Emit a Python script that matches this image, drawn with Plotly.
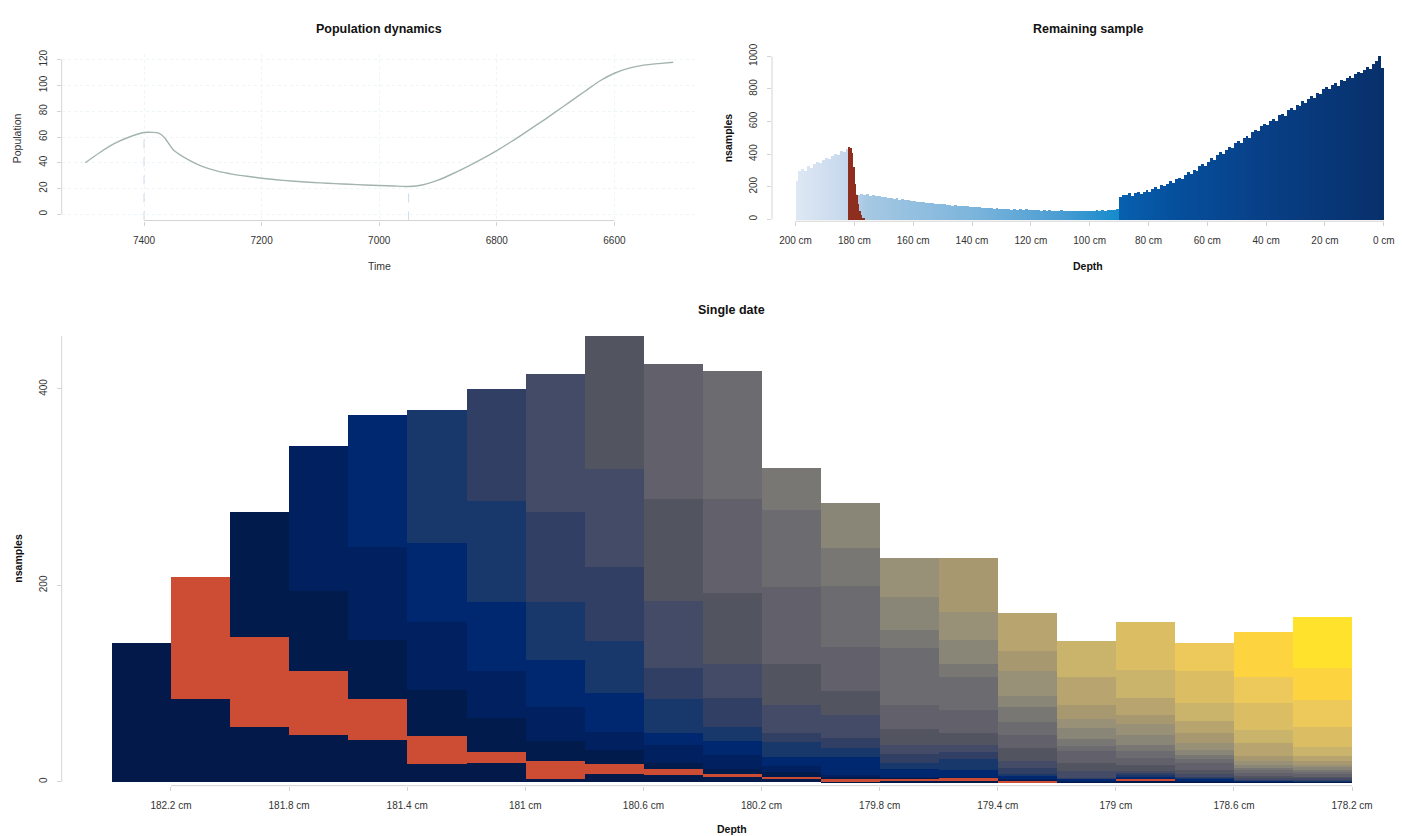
import numpy as np
import plotly.graph_objects as go

W, H = 1402, 836

# ---------------- Population dynamics ----------------
time_years = [7500, 7475, 7450, 7425, 7400, 7385, 7375, 7365, 7350, 7325, 7300, 7275,
              7250, 7225, 7200, 7175, 7150, 7125, 7100, 7075, 7050, 7025, 7000, 6975,
              6950, 6925, 6900, 6875, 6850, 6825, 6800, 6775, 6750, 6725, 6700, 6675,
              6650, 6625, 6600, 6575, 6550, 6525, 6500]
population = [40, 48, 55, 60, 63.5, 63.6, 63, 59.5, 50, 42.5, 37, 33.5,
              31.2, 29.5, 28, 26.8, 25.9, 25.1, 24.4, 23.8, 23.3, 22.8, 22.4, 22,
              21.6, 23, 26.5, 31.5, 37, 43, 49.5, 56.5, 64, 71.5, 79.5, 87.5,
              95.5, 103.5, 109.5, 113.5, 115.8, 117, 118]
marked_times = [7400, 6950]
time_ticks = [7400, 7200, 7000, 6800, 6600]
pop_ticks = [0, 20, 40, 60, 80, 100, 120]

# ---------------- Remaining sample ----------------
depth_bins = np.arange(199.5, 0, -1.0)   # 1 cm bins, 200 cm -> 0 cm
remaining_counts = [
    235, 298, 309, 301, 326, 318, 341, 352, 346, 368,
    377, 369, 392, 405, 398, 421, 415, 433, 436, 160,
    158, 151, 155, 149, 156, 146, 150, 143, 147, 138,
    141, 133, 134, 128, 131, 121, 126, 119, 118, 112,
    116, 108, 109, 105, 104, 99, 103, 94, 98, 93,
    93, 89, 90, 84, 88, 81, 84, 80, 80, 76,
    78, 74, 75, 72, 73, 68, 72, 66, 69, 66,
    66, 63, 65, 60, 64, 60, 62, 57, 62, 58,
    59, 57, 58, 54, 59, 53, 56, 55, 55, 52,
    57, 51, 54, 53, 54, 50, 55, 52, 53, 51,
    55, 51, 56, 52, 56, 55, 57, 58, 60, 62,
    138, 152, 149, 160, 146, 163, 170, 158, 172, 180,
    171, 190, 197, 188, 210, 203, 221, 235, 226, 250,
    258, 247, 276, 290, 280, 305, 298, 326, 342, 331,
    356, 377, 366, 398, 412, 401, 428, 446, 437, 468,
    481, 470, 502, 515, 503, 539, 552, 541, 573, 585,
    579, 606, 618, 602, 639, 648, 633, 671, 684, 673,
    702, 695, 726, 717, 741, 759, 748, 776, 768, 799,
    812, 801, 829, 838, 822, 855, 849, 868, 881, 870,
    892, 903, 897, 921, 934, 926, 958, 973, 1006, 928,
]
single_date_depth = [181.75, 181.25, 180.75, 180.25, 179.75, 179.25, 178.75, 178.25,
                     177.75, 177.25, 176.75]
single_date_counts = [445, 440, 410, 320, 220, 150, 95, 55, 28, 12, 4]
depth_ticks = [200, 180, 160, 140, 120, 100, 80, 60, 40, 20, 0]
count_ticks = [0, 200, 400, 600, 800, 1000]

# depth-keyed blues used for the remaining sample bars
remaining_scale = [
    [0.0, "#08306b"], [0.2, "#083f86"], [0.35, "#064f9c"], [0.449, "#0760ae"],
    [0.451, "#168bcb"], [0.55, "#4a9dd2"], [0.7, "#7db5dc"], [0.88, "#a6c8e3"],
    [0.91, "#c5d6eb"], [1.0, "#dfe8f5"],
]

# ---------------- Single date ----------------
slice_depth = [182.3, 182.1, 181.9, 181.7, 181.5, 181.3, 181.1, 180.9, 180.7, 180.5, 180.3,
               180.1, 179.9, 179.7, 179.5, 179.3, 179.1, 178.9, 178.7, 178.5, 178.3]
s01 = [142, 85, 56, 48, 43, 18, 19, 3.5, 8.7, 7.5, 4.7, 3.3, 0.3, 2, 1.5, 0, 0, 1.7, 0.5, 0.3, 0.2]
s02 = [0, 124, 92, 65, 42, 29, 12, 17.5, 9.7, 6, 3.8, 2, 3.2, 1.7, 3, 1.7, 0, 2, 0, 0, 0]
s03 = [0, 0, 127, 82, 60, 47, 34, 21, 13.8, 5.5, 5, 4.5, 1.5, 0.6, 0.5, 0.5, 0.2, 0, 0.5, 0.2, 0]
s04 = [0, 0, 0, 147, 94, 69, 48, 34, 19.1, 18.3, 14, 6.8, 2.5, 0.5, 0.5, 1, 0.7, 0, 1, 0.5, 0.3]
s05 = [0, 0, 0, 0, 135, 80, 70, 48.5, 39.5, 12.8, 14.7, 8.7, 17.7, 8.1, 7, 3, 2.5, 2, 2, 0.5, 0.5]
s06 = [0, 0, 0, 0, 0, 136, 103, 59.3, 53.2, 34, 14.2, 15.4, 9.8, 6, 10.6, 2.2, 0.5, 2, 0.5, 0.5, 0.7]
s07 = [0, 0, 0, 0, 0, 0, 114, 91.5, 75.4, 32.2, 29, 9, 10, 9.6, 7, 6, 0.5, 1.5, 0.5, 1, 1]
s08 = [0, 0, 0, 0, 0, 0, 0, 140.7, 99.2, 68.4, 34.5, 29, 23.4, 8.8, 8.1, 6.7, 6.7, 2.5, 3.5, 1.5, 1.5]
s09 = [0, 0, 0, 0, 0, 0, 0, 0, 135.4, 103.7, 72.8, 41.5, 24.6, 16.8, 11.6, 13.4, 8.3, 5.4, 4.2, 1.5, 1.5]
s10 = [0, 0, 0, 0, 0, 0, 0, 0, 0, 137.7, 95.4, 78.8, 44.5, 24, 23.5, 13.4, 11.8, 7.3, 6.7, 3.3, 2]
s11 = [0, 0, 0, 0, 0, 0, 0, 0, 0, 0, 130.7, 77.7, 62.6, 58.7, 33.2, 13.4, 6, 7, 4.2, 3.4, 2.5]
s12 = [0, 0, 0, 0, 0, 0, 0, 0, 0, 0, 0, 43.5, 37.9, 18.3, 14.1, 15.1, 6.7, 6.5, 4.2, 2, 2.5]
s13 = [0, 0, 0, 0, 0, 0, 0, 0, 0, 0, 0, 0, 46.2, 33.6, 24.1, 11.7, 10.7, 10, 5, 2.4, 2.2]
s14 = [0, 0, 0, 0, 0, 0, 0, 0, 0, 0, 0, 0, 0, 39.4, 28.9, 25.1, 10, 11.1, 7.4, 4.7, 2.2]
s15 = [0, 0, 0, 0, 0, 0, 0, 0, 0, 0, 0, 0, 0, 0, 54.9, 20.1, 14.1, 9, 9.3, 5, 4.7]
s16 = [0, 0, 0, 0, 0, 0, 0, 0, 0, 0, 0, 0, 0, 0, 0, 39.3, 27.8, 17.4, 12.5, 12.7, 5]
s17 = [0, 0, 0, 0, 0, 0, 0, 0, 0, 0, 0, 0, 0, 0, 0, 0, 36.9, 28.8, 18.7, 13.5, 8.7]
s18 = [0, 0, 0, 0, 0, 0, 0, 0, 0, 0, 0, 0, 0, 0, 0, 0, 0, 48.3, 32.5, 27.7, 20.8]
s19 = [0, 0, 0, 0, 0, 0, 0, 0, 0, 0, 0, 0, 0, 0, 0, 0, 0, 0, 28.5, 25.8, 27.4]
s20 = [0, 0, 0, 0, 0, 0, 0, 0, 0, 0, 0, 0, 0, 0, 0, 0, 0, 0, 0, 46, 32.9]
s21 = [0, 0, 0, 0, 0, 0, 0, 0, 0, 0, 0, 0, 0, 0, 0, 0, 0, 0, 0, 0, 51.2]
slice_series = [s01, s02, s03, s04, s05, s06, s07, s08, s09, s10, s11,
                s12, s13, s14, s15, s16, s17, s18, s19, s20, s21]
slice_colors = ["#03194a", "#cd4c34", "#011b4c", "#00205f", "#002870", "#18376a", "#313f64",
                "#434b66", "#52555f", "#62616b", "#6c6b70", "#787774", "#898678", "#989077",
                "#a79870", "#b8a46e", "#cab36b", "#dbbe63", "#edc85a", "#fdd43f", "#fee22c"]
slice_ticks = [182.2, 181.8, 181.4, 181.0, 180.6, 180.2, 179.8, 179.4, 179.0, 178.6, 178.2]
slice_tick_text = ["182.2 cm", "181.8 cm", "181.4 cm", "181 cm", "180.6 cm", "180.2 cm",
                   "179.8 cm", "179.4 cm", "179 cm", "178.6 cm", "178.2 cm"]

FONT = "Liberation Sans, Arial, sans-serif"
AXIS_GREY = "#d4d4d4"
GRID = "#edf5f8"
TEXT = "#333333"


def px(x):
    return x / W


def py(y):
    return 1 - y / H


fig = go.Figure()

# population curve
fig.add_trace(go.Scatter(x=time_years, y=population, mode="lines",
                         line=dict(color="#a3b4ae", width=1.4, shape="spline", smoothing=0.6),
                         xaxis="x", yaxis="y", showlegend=False, hoverinfo="skip"))
for t in marked_times:
    level = float(np.interp(-t, -np.array(time_years), population))
    fig.add_trace(go.Scatter(x=[t, t], y=[-4.8, level], mode="lines",
                             line=dict(color="#cddcea", width=1, dash="dash"),
                             xaxis="x", yaxis="y", showlegend=False, hoverinfo="skip"))

# remaining sample bars
fig.add_trace(go.Bar(x=depth_bins, y=remaining_counts, width=1.0,
                     marker=dict(color=depth_bins, colorscale=remaining_scale, cmin=0, cmax=200,
                                 line=dict(width=0)),
                     xaxis="x2", yaxis="y2", showlegend=False, hoverinfo="skip"))
fig.add_trace(go.Bar(x=single_date_depth, y=single_date_counts, width=0.5,
                     marker=dict(color="#8e2e1e", line=dict(width=0)),
                     xaxis="x2", yaxis="y2", showlegend=False, hoverinfo="skip"))

# single date stacked bars
base = np.zeros(len(slice_depth))
for vals, col in zip(slice_series, slice_colors):
    vals = np.array(vals, dtype=float)
    fig.add_trace(go.Bar(x=slice_depth, y=vals, base=base.copy(), width=0.2,
                         marker=dict(color=col, line=dict(width=0)),
                         xaxis="x3", yaxis="y3", showlegend=False, hoverinfo="skip"))
    base = base + vals

tick_common = dict(ticks="outside", ticklen=4, tickwidth=1, tickcolor=AXIS_GREY,
                   showline=False, zeroline=False,
                   tickfont=dict(family=FONT, size=10, color=TEXT))

fig.update_layout(
    width=W, height=H, margin=dict(l=0, r=0, t=0, b=0),
    paper_bgcolor="white", plot_bgcolor="white",
    barmode="overlay", bargap=0,
    font=dict(family=FONT, color=TEXT),
    xaxis=dict(domain=[px(61.7), px(696.7)], range=[7540, 6460], anchor="y",
               tickvals=time_ticks, showgrid=True, gridcolor=GRID, griddash="dot",
               ticklabelstandoff=6, **tick_common),
    yaxis=dict(domain=[py(212.3), py(43.1)], range=[-4.8, 124.8], anchor="x",
               tickvals=pop_ticks, tickangle=-90, showgrid=True, gridcolor=GRID,
               griddash="dot", ticklabelstandoff=6, **tick_common),
    xaxis2=dict(domain=[px(772), 1.0], range=[208, -6.19], anchor="y2",
                tickvals=depth_ticks, ticktext=[f"{d} cm" for d in depth_ticks],
                showgrid=False, ticklabelstandoff=6, **tick_common),
    yaxis2=dict(domain=[py(213), py(44.3)], range=[-12.1, 1010.3], anchor="x2",
                tickvals=count_ticks, tickangle=-90, showgrid=False,
                ticklabelstandoff=6, **tick_common),
    xaxis3=dict(domain=[px(61.7), 1.0], range=[182.570, 178.031], anchor="y3",
                tickvals=slice_ticks, ticktext=slice_tick_text, showgrid=False,
                ticklabelstandoff=6, **tick_common),
    yaxis3=dict(domain=[py(785), py(328)], range=[-4.02, 455.3], anchor="x3",
                tickvals=[0, 200, 400], tickangle=-90, showgrid=False,
                ticklabelstandoff=6, **tick_common),
)

# axis lines spanning the labelled range
axis_lines = [
    dict(xref="x", yref="y domain", x0=time_ticks[0], x1=time_ticks[-1], y0=0, y1=0),
    dict(xref="x domain", yref="y", x0=0, x1=0, y0=pop_ticks[0], y1=pop_ticks[-1]),
    dict(xref="x2", yref="y2 domain", x0=depth_ticks[0], x1=depth_ticks[-1], y0=0, y1=0),
    dict(xref="x2 domain", yref="y2", x0=0, x1=0, y0=count_ticks[0], y1=count_ticks[-1]),
    dict(xref="x3", yref="y3 domain", x0=slice_ticks[0], x1=slice_ticks[-1], y0=0, y1=0),
    dict(xref="x3 domain", yref="y3", x0=0, x1=0, y0=0, y1=float(base.max())),
]
for ln in axis_lines:
    fig.add_shape(type="line", line=dict(color=AXIS_GREY, width=1), layer="below", **ln)

annotations = [
    ("Population dynamics", 379, 18, 0, True, 12.5),
    ("Remaining sample", 1088, 18, 0, True, 12.5),
    ("Single date", 732, 303, 0, True, 12.5),
    ("Time", 379, 258, 0, False, 10.5),
    ("Depth", 1088, 258, 0, True, 10.5),
    ("Depth", 732, 829, 0, True, 10.5),
    ("Population", 17, 129, -90, False, 10.5),
    ("nsamples", 728, 129, -90, True, 10.5),
    ("nsamples", 18, 555, -90, True, 10.5),
]
for text, x, y, ang, bold, size in annotations:
    fig.add_annotation(text=f"<b>{text}</b>" if bold else text, x=px(x), y=py(y),
                       xref="paper", yref="paper", showarrow=False, textangle=ang,
                       xanchor="center", yanchor="middle",
                       font=dict(family=FONT, size=size, color="#111111" if bold else TEXT))

fig.write_html("out.html")
